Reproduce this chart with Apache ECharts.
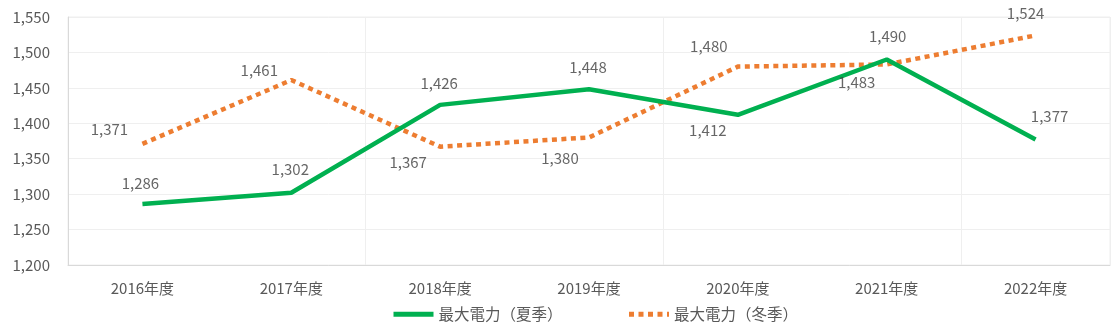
<!DOCTYPE html>
<html>
<head>
<meta charset="utf-8">
<script src="https://cdn.jsdelivr.net/npm/echarts@6/dist/echarts.min.js"></script>
<style>
  html, body { margin: 0; padding: 0; background: #fff; }
  #chart { width: 1118px; height: 332px; }
</style>
</head>
<body>
<div id="chart"></div>
<script>
// Fiscal years on the category axis
const categories = ['2016年度', '2017年度', '2018年度', '2019年度', '2020年度', '2021年度', '2022年度'];
// Peak demand (summer / winter)
const summerName = '最大電力（夏季）';
const winterName = '最大電力（冬季）';
const summerValues = [1286, 1302, 1426, 1448, 1412, 1490, 1377];
const winterValues = [1371, 1461, 1367, 1380, 1480, 1483, 1524];
// Value axis range
const yMin = 1200, yMax = 1550, yStep = 50;

// Label nudges (pixels from each point) so labels don't collide with lines
const summerLabelOffsets = [[-2, -21], [-1, -23], [-1, -22], [-1, -22], [-30, 16], [1, -23], [14, -23]];
const winterLabelOffsets = [[-33, -15], [-32, -10], [-32, 16], [-29, 21], [-29, -20], [-30, 18], [-10, -22]];

const fontFamily = '"Noto Sans CJK JP", "Noto Sans", sans-serif';
const textColor = '#595959';

// Invisible points carrying the value labels
function labelSeries(values, offsets) {
  return {
    type: 'scatter',
    symbolSize: 0,
    silent: true,
    z: 5,
    data: values.map((v, i) => ({
      value: [i, v],
      label: { offset: offsets[i] }
    })),
    label: {
      show: true,
      position: 'inside',
      color: '#404040',
      fontSize: 15,
      fontFamily: fontFamily,
      formatter: p => p.value[1].toLocaleString('en-US')
    }
  };
}

const chart = echarts.init(document.getElementById('chart'), null, { renderer: 'canvas' });
chart.setOption({
  animation: false,
  textStyle: { fontFamily: fontFamily },
  grid: {
    left: 68, right: 8, top: 17, bottom: 67, containLabel: false,
    show: true, borderColor: '#efefef', borderWidth: 1
  },
  legend: {
    bottom: 5,
    left: 386,
    itemWidth: 40,
    itemHeight: 8,
    itemGap: 64,
    itemStyle: { opacity: 0 },
    lineStyle: { width: 5 },
    textStyle: { color: textColor, fontSize: 15.5, fontFamily: fontFamily },
    data: [summerName, winterName]
  },
  xAxis: {
    type: 'category',
    data: categories,
    boundaryGap: true,
    axisLine: { show: true, lineStyle: { color: '#d9d9d9', width: 1 } },
    axisTick: { show: false },
    axisLabel: { color: textColor, fontSize: 15, margin: 16, fontFamily: fontFamily },
    splitLine: {
      show: true,
      interval: function (index) { return index > 0 && index % 2 === 0; },
      lineStyle: { color: '#efefef', width: 1 }
    }
  },
  yAxis: {
    type: 'value',
    min: yMin,
    max: yMax,
    interval: yStep,
    axisLine: { show: true, lineStyle: { color: '#d9d9d9', width: 1 } },
    axisTick: { show: false },
    axisLabel: {
      color: textColor,
      fontSize: 15,
      margin: 18,
      fontFamily: fontFamily,
      formatter: v => v.toLocaleString('en-US')
    },
    splitLine: { show: true, lineStyle: { color: '#efefef', width: 1 } }
  },
  series: [
    {
      name: summerName,
      type: 'line',
      data: summerValues,
      symbol: 'none',
      lineStyle: { color: '#00B050', width: 4.5, cap: 'butt' },
      itemStyle: { color: '#00B050' },
      z: 3
    },
    {
      name: winterName,
      type: 'line',
      data: winterValues,
      symbol: 'none',
      lineStyle: { color: '#ED7D31', width: 4.5, type: [5, 4.5], cap: 'butt' },
      itemStyle: { color: '#ED7D31' },
      z: 2
    },
    labelSeries(summerValues, summerLabelOffsets),
    labelSeries(winterValues, winterLabelOffsets)
  ]
});
</script>
</body>
</html>
